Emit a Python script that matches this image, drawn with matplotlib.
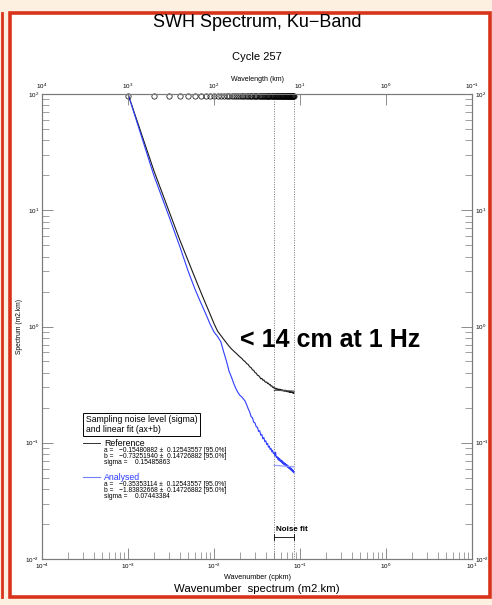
import matplotlib.pyplot as plt
from matplotlib.lines import Line2D
from matplotlib.patches import Rectangle
from matplotlib.ticker import LogLocator, NullLocator, NullFormatter

plt.rcParams['font.family'] = ['Liberation Sans', 'DejaVu Sans']
plt.rcParams['mathtext.default'] = 'regular'

# wavenumber grid (cpkm)
wavenumber = [0.001, 0.002, 0.003, 0.004, 0.005, 0.006, 0.007, 0.008, 0.009, 0.010,
              0.011, 0.012, 0.013, 0.014, 0.015, 0.016, 0.017, 0.018, 0.019, 0.020,
              0.021, 0.022, 0.023, 0.024, 0.025, 0.026, 0.027, 0.028, 0.029, 0.030,
              0.031, 0.032, 0.033, 0.034, 0.035, 0.036, 0.037, 0.038, 0.039, 0.040,
              0.041, 0.042, 0.043, 0.044, 0.045, 0.046, 0.047, 0.048, 0.049, 0.050,
              0.051, 0.052, 0.053, 0.054, 0.055, 0.056, 0.057, 0.058, 0.059, 0.060,
              0.061, 0.062, 0.063, 0.064, 0.065, 0.066, 0.067, 0.068, 0.069, 0.070,
              0.071, 0.072, 0.073, 0.074, 0.075, 0.076, 0.077, 0.078, 0.079, 0.080,
              0.081, 0.082, 0.083, 0.084, 0.085]

# spectrum, reference (black)
reference = [100, 21.9, 9.8, 5.56, 3.68, 2.63, 1.99, 1.57, 1.28, 1.06,
             0.912, 0.838, 0.774, 0.721, 0.675, 0.64, 0.614, 0.59, 0.568, 0.548,
             0.532, 0.511, 0.499, 0.480, 0.471, 0.450, 0.443, 0.424, 0.419, 0.401,
             0.396, 0.381, 0.378, 0.368, 0.355, 0.358, 0.345, 0.347, 0.336, 0.331,
             0.333, 0.323, 0.325, 0.315, 0.317, 0.307, 0.309, 0.300, 0.302, 0.294,
             0.297, 0.289, 0.294, 0.287, 0.291, 0.285, 0.290, 0.283, 0.288, 0.284,
             0.286, 0.280, 0.285, 0.279, 0.283, 0.277, 0.284, 0.278, 0.281, 0.276,
             0.280, 0.274, 0.279, 0.273, 0.277, 0.271, 0.276, 0.272, 0.275, 0.270,
             0.274, 0.268, 0.273, 0.266, 0.272]

# spectrum, analysed (blue)
analysed = [100, 19.9, 8.83, 4.88, 3.0, 2.1, 1.61, 1.29, 1.05, 0.897,
            0.82, 0.74, 0.60, 0.50, 0.41, 0.365, 0.322, 0.292, 0.270, 0.256,
            0.248, 0.238, 0.228, 0.212, 0.196, 0.184, 0.168, 0.164, 0.15, 0.148,
            0.137, 0.136, 0.125, 0.127, 0.116, 0.118, 0.108, 0.111, 0.102, 0.104,
            0.0965, 0.0985, 0.0915, 0.0935, 0.0875, 0.0895, 0.0835, 0.0862, 0.0808, 0.0820,
            0.0770, 0.0830, 0.0745, 0.0762, 0.0722, 0.0745, 0.0705, 0.0730, 0.0690, 0.0712,
            0.0675, 0.0700, 0.0662, 0.0684, 0.0650, 0.0672, 0.0640, 0.0662, 0.0628, 0.0650,
            0.0618, 0.0640, 0.0608, 0.0628, 0.0598, 0.0617, 0.0588, 0.0606, 0.0578, 0.0597,
            0.0570, 0.0588, 0.0560, 0.0575, 0.0552]

# noise fit range and fitted levels
fit_range = [0.05, 0.085]
reference_fit = [0.282, 0.279]
analysed_fit = [0.064, 0.062]

ref_stats = ['a =   \u22120.15480882 \u00b1  0.12543557 [95.0%]',
             'b =   \u22120.73251940 \u00b1  0.14726882 [95.0%]',
             'sigma =    0.15485863']
ana_stats = ['a =   \u22120.35353114 \u00b1  0.12543557 [95.0%]',
             'b =   \u22121.83832668 \u00b1  0.14726882 [95.0%]',
             'sigma =    0.07443384']

W, H = 492, 605


def fx(x):
    return x / W


def fy(y):
    return 1 - y / H


fig = plt.figure(figsize=(W / 100, H / 100), dpi=100, facecolor='#fdf0e1')
fig.patches.append(Rectangle((fx(10), fy(597)), 480 / W, 584 / H, transform=fig.transFigure,
                             fc='white', ec='#d8341c', lw=2.6, zorder=-5))
fig.add_artist(Line2D([fx(1.5), fx(1.5)], [fy(597), fy(13)], color='#d8341c', lw=2))

ax = fig.add_axes([fx(42), fy(559), (472 - 42) / W, (559 - 94) / H])
ax.set_xscale('log')
ax.set_yscale('log')
ax.set_xlim(1e-4, 1e1)
ax.set_ylim(1e-2, 1e2)

ax.plot(wavenumber, reference, color='#1a1a1a', lw=0.8, zorder=3)
ax.plot(wavenumber, analysed, color='#2d3cff', lw=0.8, zorder=3)
ax.plot(fit_range, reference_fit, color='#555555', lw=0.7, zorder=4)
ax.plot(fit_range, analysed_fit, color='#8a98ff', lw=0.8, zorder=4)

# dotted lines bounding the noise-fit range
for k in fit_range:
    ax.axvline(k, color='#777777', lw=0.7, ls=(0, (1, 1.5)), zorder=2)

# sample positions shown along the top edge
ax.plot(wavenumber, [ax.get_ylim()[1] * 0.97] * len(wavenumber), ls='none', marker='o',
        ms=3.8, mfc='none', mec='black', mew=0.5, clip_on=False, zorder=5)

for s in ax.spines.values():
    s.set_color('#7a7a7a')
    s.set_linewidth(0.8)

ax.xaxis.set_major_locator(LogLocator(base=10, numticks=10))
ax.xaxis.set_minor_locator(LogLocator(base=10, subs=range(2, 10), numticks=20))
ax.yaxis.set_major_locator(LogLocator(base=10, numticks=10))
ax.yaxis.set_minor_locator(LogLocator(base=10, subs=range(2, 10), numticks=20))
ax.xaxis.set_minor_formatter(NullFormatter())
ax.yaxis.set_minor_formatter(NullFormatter())
ax.tick_params(which='both', direction='in', top=False, right=True, labelright=True,
               color='#7a7a7a', labelsize=4.5, pad=2)
ax.tick_params(which='major', length=8, width=0.6)
ax.tick_params(which='minor', length=5, width=0.5)

ax2 = ax.twiny()
ax2.set_xscale('log')
ax2.set_xlim(1e4, 1e-1)
ax2.xaxis.set_major_locator(LogLocator(base=10, numticks=10))
ax2.xaxis.set_minor_locator(NullLocator())
ax2.tick_params(which='major', direction='in', length=8, width=0.6, color='#7a7a7a',
                labelsize=4.5, pad=2)
for s in ax2.spines.values():
    s.set_color('#7a7a7a')
    s.set_linewidth(0.8)
ax2.set_xlabel('Wavelength (km)', fontsize=5, labelpad=1)

ax.set_xlabel('Wavenumber (cpkm)', fontsize=5.2, labelpad=2)
ax.set_ylabel('Spectrum (m2.km)', fontsize=4.8, labelpad=2)

# noise fit bracket
ax.plot(fit_range, [0.0155, 0.0155], color='black', lw=0.6)
ax.plot([fit_range[0]] * 2, [0.0145, 0.0165], color='black', lw=0.6)
ax.plot([fit_range[1]] * 2, [0.0145, 0.0165], color='black', lw=0.6)
ax.text(0.052, 0.0178, 'Noise fit', fontsize=5.8, fontweight='bold', va='center', ha='left')

fig.text(0.5225, fy(22.5), 'SWH Spectrum, Ku\u2212Band', fontsize=13, ha='center', va='center')
fig.text(0.5225, fy(57), 'Cycle 257', fontsize=8, ha='center', va='center')
fig.text(0.522, fy(589), 'Wavenumber  spectrum (m2.km)', fontsize=8.2, ha='center', va='center')
fig.text(fx(240), fy(340), '< 14 cm at 1 Hz', fontsize=18, fontweight='bold',
         ha='left', va='center')

# legend block
fig.text(fx(86), fy(424.5), 'Sampling noise level (sigma)\nand linear fit (ax+b)', fontsize=6.2,
         ha='left', va='center', linespacing=1.0,
         bbox=dict(boxstyle='square,pad=0.3', fc='white', ec='black', lw=0.7))
fig.add_artist(Line2D([fx(83), fx(100)], [fy(443), fy(443)], color='#333333', lw=0.7))
fig.text(fx(104), fy(443), 'Reference', fontsize=6.3, ha='left', va='center')
for i, s in enumerate(ref_stats):
    fig.text(fx(104), fy(451 + 6 * i), s, fontsize=4.8, ha='left', va='center')
fig.add_artist(Line2D([fx(83), fx(100)], [fy(477), fy(477)], color='#7080ff', lw=0.8))
fig.text(fx(104), fy(477), 'Analysed', fontsize=6.3, ha='left', va='center', color='#2d3cff')
for i, s in enumerate(ana_stats):
    fig.text(fx(104), fy(485 + 6 * i), s, fontsize=4.8, ha='left', va='center')

plt.savefig('out.png', dpi=100, facecolor=fig.get_facecolor())
